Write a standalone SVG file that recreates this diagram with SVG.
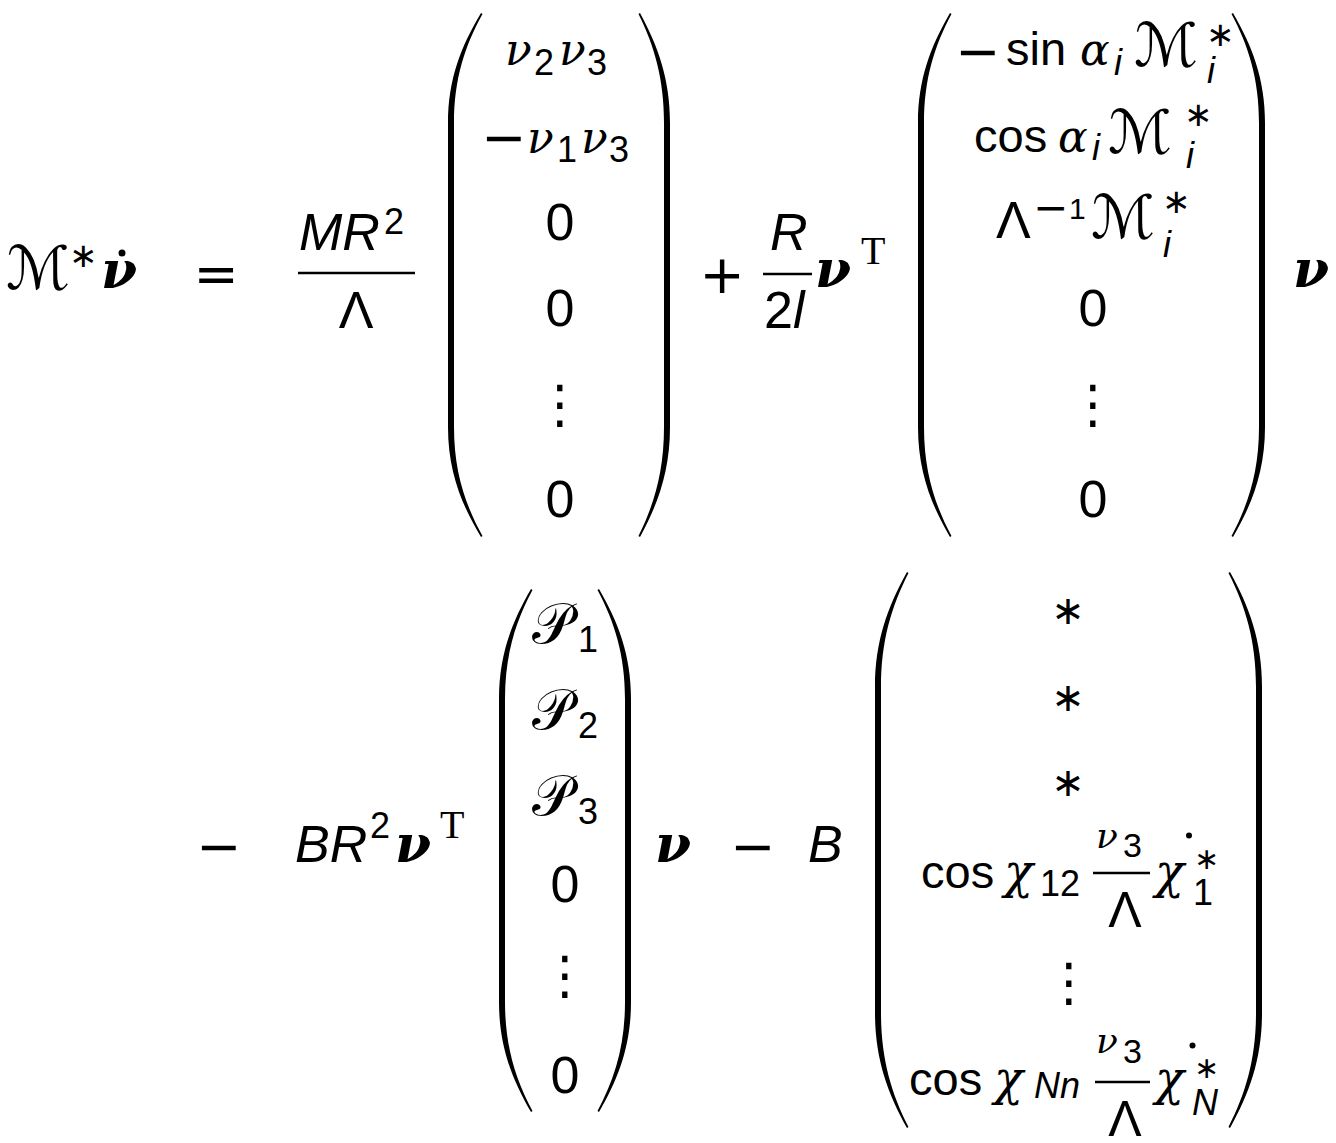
<svg xmlns="http://www.w3.org/2000/svg" width="1336" height="1143" viewBox="0 0 1336 1143">
<style>
text{fill:#000}
.sf{font-family:"Liberation Sans",Arial,sans-serif;font-size:52px}
.fn{font-family:"Liberation Sans",Arial,sans-serif;font-size:47px}
.it{font-family:"Liberation Sans",Arial,sans-serif;font-style:italic;font-size:52px}
.gr{font-family:"DejaVu Serif",serif;font-style:italic;font-size:44px}
.bv{font-family:"DejaVu Serif",serif;font-style:italic;font-weight:bold;font-size:52px}
.op{font-family:"DejaVu Sans",sans-serif;font-size:54px}
.cal{font-family:"DejaVu Sans",sans-serif;font-size:60px}
.st{font-family:"DejaVu Sans",sans-serif;font-size:34px}
.tt{font-family:"Liberation Serif",serif;font-size:40px}
.dots{font-family:"DejaVu Sans",sans-serif;font-size:52px}
.bar{stroke:#000;stroke-width:2.5}
.par{fill:#000}
</style>

<g id="lhs">
<text class="cal" x="6" y="289">ℳ</text>
<text class="st" x="69" y="267">∗</text>
<text class="bv" x="101" y="288">ν</text>
<circle cx="122" cy="253" r="3.5"/>
</g>

<g id="equals"><text class="op" x="216" y="292" text-anchor="middle">=</text></g>

<g id="frac-MR2">
<text class="it" x="299" y="250">MR</text>
<text class="sf" x="384" y="234" style="font-size:36px">2</text>
<line class="bar" x1="298" y1="273" x2="415" y2="273"/>
<text class="sf" x="356" y="328" text-anchor="middle">Λ</text>
</g>

<g id="matrix1">
<path class="par" d="M481,13 C461.2,46 448,79 448,123 L448,427 C448,471 461.2,504 481,537 L482.5,536 C464.8,504 454,471 454,427 L454,123 C454,79 464.8,46 482.5,14 Z"/>
<path class="par" d="M640,13 C658,46 670,79 670,123 L670,427 C670,471 658,504 640,537 L638.5,536 C654.4,504 664,471 664,427 L664,123 C664,79 654.4,46 638.5,14 Z"/>
<text class="gr" x="505" y="65">ν</text><text class="sf" x="534" y="75" style="font-size:36px">2</text>
<text class="gr" x="559" y="65">ν</text><text class="sf" x="587" y="75" style="font-size:36px">3</text>
<text class="op" x="481" y="156">−</text>
<text class="gr" x="527" y="153">ν</text><text class="sf" x="557" y="162" style="font-size:36px">1</text>
<text class="gr" x="581" y="153">ν</text><text class="sf" x="609" y="162" style="font-size:36px">3</text>
<text class="sf" x="560" y="240" text-anchor="middle">0</text>
<text class="sf" x="560" y="326" text-anchor="middle">0</text>
<text class="dots" x="560" y="422" text-anchor="middle">⋮</text>
<text class="sf" x="560" y="517" text-anchor="middle">0</text>
</g>

<g id="plus"><text class="op" x="722" y="293" text-anchor="middle">+</text></g>

<g id="frac-R2l">
<text class="it" x="770" y="250">R</text>
<line class="bar" x1="763" y1="274" x2="812" y2="274"/>
<text class="sf" x="764" y="328">2<tspan class="it">l</tspan></text>
<text class="bv" x="815" y="287">ν</text>
<text class="tt" x="861" y="264">T</text>
</g>

<g id="matrix2">
<path class="par" d="M950,13 C930.8,46 918,79 918,123 L918,427 C918,471 930.8,504 950,537 L951.5,536 C934.4,504 924,471 924,427 L924,123 C924,79 934.4,46 951.5,14 Z"/>
<path class="par" d="M1233,13 C1252.2,46 1265,79 1265,123 L1265,427 C1265,471 1252.2,504 1233,537 L1231.5,536 C1248.6,504 1259,471 1259,427 L1259,123 C1259,79 1248.6,46 1231.5,14 Z"/>
<text class="op" x="955" y="70">−</text>
<text class="fn" x="1006" y="65">sin</text>
<text class="gr" x="1080" y="65">α</text>
<text class="it" x="1114" y="75" style="font-size:36px">i</text>
<text class="cal" x="1134" y="66">ℳ</text>
<text class="st" x="1206" y="46">∗</text>
<text class="it" x="1207" y="83" style="font-size:36px">i</text>

<text class="fn" x="974" y="152">cos</text>
<text class="gr" x="1058" y="152">α</text>
<text class="it" x="1092" y="160" style="font-size:36px">i</text>
<text class="cal" x="1108" y="153">ℳ</text>
<text class="st" x="1184" y="126">∗</text>
<text class="it" x="1186" y="168" style="font-size:36px">i</text>

<text class="sf" x="996" y="238">Λ</text>
<text class="op" x="1033" y="222" style="font-size:42px">−</text>
<text class="sf" x="1069" y="219" style="font-size:30px">1</text>
<text class="cal" x="1091" y="238">ℳ</text>
<text class="st" x="1162" y="213">∗</text>
<text class="it" x="1163" y="257" style="font-size:36px">i</text>

<text class="sf" x="1093" y="326" text-anchor="middle">0</text>
<text class="dots" x="1093" y="422" text-anchor="middle">⋮</text>
<text class="sf" x="1093" y="517" text-anchor="middle">0</text>
</g>

<g id="nu1"><text class="bv" x="1293" y="287">ν</text></g>

<g id="minus1"><text class="op" x="196" y="865">−</text></g>

<g id="BR2nuT">
<text class="it" x="295" y="862">BR</text>
<text class="sf" x="370" y="838" style="font-size:36px">2</text>
<text class="bv" x="395" y="862">ν</text>
<text class="tt" x="440" y="838">T</text>
</g>

<g id="matrix3">
<path class="par" d="M531,589 C511.8,622 499,655 499,699 L499,1002 C499,1046 511.8,1079 531,1112 L532.5,1111 C515.4,1079 505,1046 505,1002 L505,699 C505,655 515.4,622 532.5,590 Z"/>
<path class="par" d="M599,589 C618.2,622 631,655 631,699 L631,1002 C631,1046 618.2,1079 599,1112 L597.5,1111 C614.6,1079 625,1046 625,1002 L625,699 C625,655 614.6,622 597.5,590 Z"/>
<text class="cal" x="532" y="643" style="font-size:56px">𝒫</text><text class="sf" x="578" y="652" style="font-size:36px">1</text>
<text class="cal" x="532" y="729" style="font-size:56px">𝒫</text><text class="sf" x="578" y="738" style="font-size:36px">2</text>
<text class="cal" x="532" y="815" style="font-size:56px">𝒫</text><text class="sf" x="578" y="824" style="font-size:36px">3</text>
<text class="sf" x="565" y="902" text-anchor="middle">0</text>
<text class="dots" x="565" y="993" text-anchor="middle">⋮</text>
<text class="sf" x="565" y="1093" text-anchor="middle">0</text>
</g>

<g id="nu2"><text class="bv" x="655" y="862">ν</text></g>
<g id="minus2"><text class="op" x="730" y="865">−</text></g>
<g id="B"><text class="it" x="808" y="862">B</text></g>

<g id="matrix4">
<path class="par" d="M907,572 C887.8,606.5 875,641 875,687 L875,1013 C875,1059 887.8,1093.5 907,1128 L908.5,1127 C891.4,1093.5 881,1059 881,1013 L881,687 C881,641 891.4,606.5 908.5,573 Z"/>
<path class="par" d="M1230,572 C1249.2,606.5 1262,641 1262,687 L1262,1013 C1262,1059 1249.2,1093.5 1230,1128 L1228.5,1127 C1245.6,1093.5 1256,1059 1256,1013 L1256,687 C1256,641 1245.6,606.5 1228.5,573 Z"/>
<text class="st" x="1068" y="624" text-anchor="middle" style="font-size:40px">∗</text>
<text class="st" x="1068" y="711" text-anchor="middle" style="font-size:40px">∗</text>
<text class="st" x="1068" y="796" text-anchor="middle" style="font-size:40px">∗</text>

<text class="fn" x="921" y="888">cos</text>
<text class="gr" x="1004" y="888" style="font-size:48px">χ</text>
<text class="sf" x="1040" y="896" style="font-size:36px">12</text>
<text class="gr" x="1096" y="848" style="font-size:36px">ν</text><text class="sf" x="1123" y="857" style="font-size:34px">3</text>
<line class="bar" x1="1093" y1="873" x2="1150" y2="873"/>
<text class="sf" x="1125" y="927" text-anchor="middle" style="font-size:50px">Λ</text>
<text class="gr" x="1155" y="888" style="font-size:48px">χ</text>
<circle cx="1189" cy="835.5" r="3"/>
<text class="st" x="1194" y="869" style="font-size:30px">∗</text>
<text class="sf" x="1193" y="905" style="font-size:36px">1</text>

<text class="dots" x="1069" y="1000" text-anchor="middle">⋮</text>

<text class="fn" x="909" y="1095">cos</text>
<text class="gr" x="994" y="1095" style="font-size:48px">χ</text>
<text class="it" x="1034" y="1098" style="font-size:36px">Nn</text>
<text class="gr" x="1096" y="1053" style="font-size:36px">ν</text><text class="sf" x="1123" y="1063" style="font-size:34px">3</text>
<line class="bar" x1="1095" y1="1082" x2="1150" y2="1082"/>
<text class="sf" x="1125" y="1136" text-anchor="middle" style="font-size:50px">Λ</text>
<text class="gr" x="1155" y="1095" style="font-size:48px">χ</text>
<circle cx="1192.5" cy="1045.5" r="3"/>
<text class="st" x="1194" y="1078" style="font-size:30px">∗</text>
<text class="it" x="1192" y="1115" style="font-size:36px">N</text>
</g>
</svg>
